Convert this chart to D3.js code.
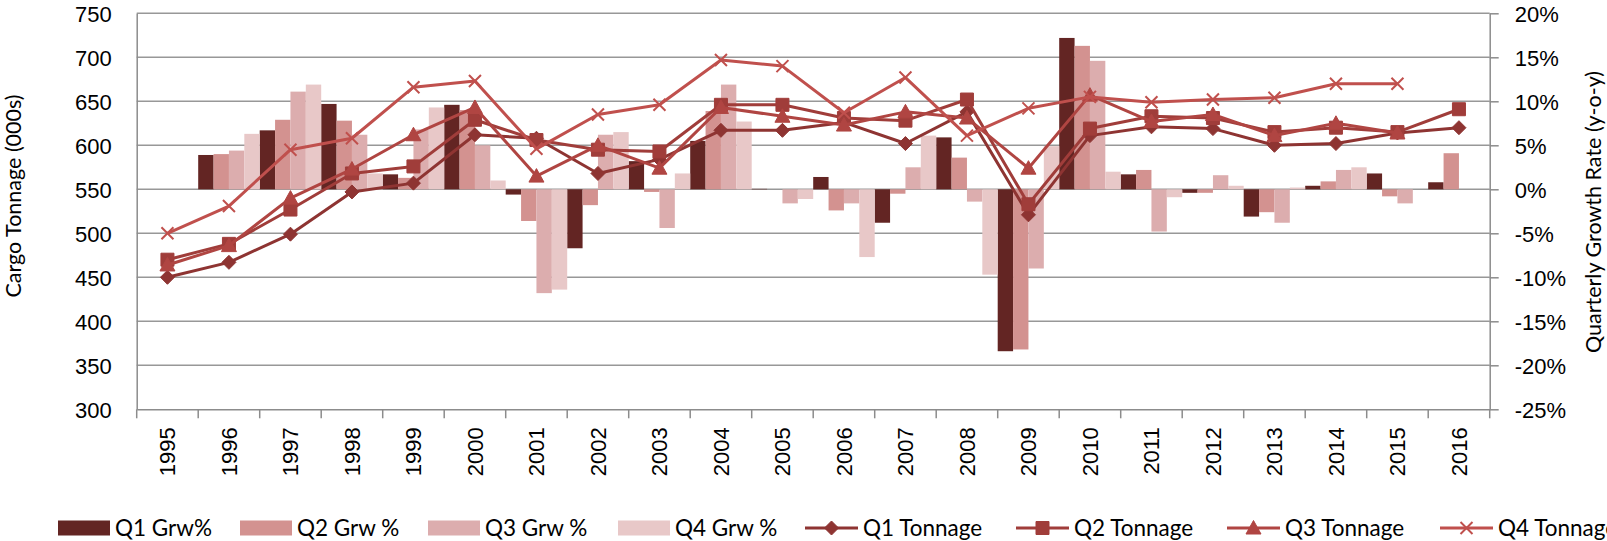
<!DOCTYPE html>
<html>
<head>
<meta charset="utf-8">
<script src="https://cdn.jsdelivr.net/npm/d3@7"></script>
<style>
  body { margin: 0; background: #fff; }
  svg { display: block; font-family: Lato, "Open Sans", sans-serif; }
  .axis text { font-size: 22px; fill: #000; }
  .axis path, .axis line { stroke: #8c8c8c; stroke-width: 1.5; }
</style>
</head>
<body>
<div id="chart"></div>
<script>
// tick labels / categories
var years = ["1995","1996","1997","1998","1999","2000","2001","2002","2003","2004","2005",
             "2006","2007","2008","2009","2010","2011","2012","2013","2014","2015","2016"];
var quarters = ["Q1","Q2","Q3","Q4"];

// year-on-year growth, % (right axis)
var q1Grw = [null, 3.9, 6.7, 9.7, 1.7, 9.6, -0.6, -6.7, 3.2, 5.5, 0.05, 1.4, -3.8, 5.9, -18.4, 17.2, 1.7, -0.4, -3.1, 0.4, 1.8, 0.8];
var q2Grw = [null, 4.0, 7.9, 7.8, 1.3, 9.0, -3.6, -1.8, -0.3, 8.9, 0.0, -2.4, -0.5, 3.6, -18.2, 16.3, 2.2, -0.4, -2.6, 0.9, -0.8, 4.1];
var q3Grw = [null, 4.4, 11.1, 6.2, 6.8, 5.0, -11.8, 6.2, -4.4, 11.9, -1.6, -1.6, 2.5, -1.4, -9.0, 14.6, -4.8, 1.6, -3.8, 2.2, -1.6, null];
var q4Grw = [null, 6.3, 11.9, 1.8, 9.3, 1.0, -11.4, 6.5, 1.8, 7.7, -1.1, -7.7, 6.1, -9.7, 4.9, 2.0, -0.9, 0.4, 0.2, 2.5, null, null];

// cargo tonnage, 000s (left axis)
var q1Ton = [450, 467, 499, 547, 557, 612, 608, 568, 584, 617, 617, 626, 602, 638, 521, 611, 621, 619, 600, 602, 614, 620];
var q2Ton = [470, 488, 527, 568, 576, 629, 606, 595, 593, 646, 646, 631, 628, 652, 533, 619, 633, 631, 615, 620, 615, 641];
var q3Ton = [464, 486, 540, 573, 612, 643, 565, 600, 574, 643, 633, 623, 638, 631, 574, 657, 627, 635, 611, 625, 614, null];
var q4Ton = [500, 531, 595, 608, 666, 673, 596, 635, 646, 697, 690, 637, 677, 611, 642, 655, 649, 652, 654, 670, 670, null];

var leftTicks = [300, 350, 400, 450, 500, 550, 600, 650, 700, 750];
var rightTicks = [-0.25, -0.20, -0.15, -0.10, -0.05, 0, 0.05, 0.10, 0.15, 0.20];

var W = 1607, H = 541;
var plot = { left: 136.7, right: 1489.7, top: 13.3, bottom: 409.3 };

var barColors = ["#632523", "#d39290", "#dcadae", "#e8c8c8"];
var lineColors = ["#8e3432", "#a03d3a", "#b04542", "#c0504d"];

// marker shapes (centred on 0,0)
var shapes = {
    diamond: "M0,-7L7,0L0,7L-7,0Z",
    square: "M-6.5,-6.5h13v13h-13Z",
    triangle: "M0,-7.5L7.5,6L-7.5,6Z",
    cross: "M-6,-6L6,6M-6,6L6,-6"
};

var barSeries = [
    { name: "Q1 Grw%", q: "Q1", values: q1Grw },
    { name: "Q2 Grw %", q: "Q2", values: q2Grw },
    { name: "Q3 Grw %", q: "Q3", values: q3Grw },
    { name: "Q4 Grw %", q: "Q4", values: q4Grw }
];
var lineSeries = [
    { name: "Q1 Tonnage", values: q1Ton, shape: "diamond" },
    { name: "Q2 Tonnage", values: q2Ton, shape: "square" },
    { name: "Q3 Tonnage", values: q3Ton, shape: "triangle" },
    { name: "Q4 Tonnage", values: q4Ton, shape: "cross" }
];

var svg = d3.select("#chart").append("svg")
    .attr("width", W)
    .attr("height", H);

var x = d3.scaleBand().domain(years).range([plot.left, plot.right]).padding(0);
var xq = d3.scaleBand().domain(quarters).range([0, x.bandwidth()]).padding(0);
var yL = d3.scaleLinear().domain([300, 750]).range([plot.bottom, plot.top]);
var yR = d3.scaleLinear().domain([-0.25, 0.20]).range([plot.bottom, plot.top]);

// gridlines
svg.append("g").attr("class", "grid")
    .selectAll("line")
    .data(leftTicks.slice(1))
    .enter().append("line")
    .attr("x1", plot.left).attr("x2", plot.right)
    .attr("y1", function(d){ return yL(d); })
    .attr("y2", function(d){ return yL(d); })
    .attr("stroke", "#989898")
    .attr("stroke-width", 1.5);

// growth bars
var barG = svg.append("g").attr("class", "bars");
barSeries.forEach(function(s, i){
    var pts = s.values.map(function(v, j){ return { year: years[j], v: v }; })
        .filter(function(d){ return d.v !== null; });
    barG.append("g")
        .selectAll("rect")
        .data(pts)
        .enter().append("rect")
        .attr("x", function(d){ return x(d.year) + xq(s.q); })
        .attr("width", xq.bandwidth())
        .attr("y", function(d){ return Math.min(yR(d.v / 100), yR(0)); })
        .attr("height", function(d){ return Math.abs(yR(d.v / 100) - yR(0)); })
        .attr("fill", barColors[i]);
});

// axes
var leftAxis = svg.append("g").attr("class", "axis")
    .attr("transform", "translate(" + plot.left + ",0)")
    .call(d3.axisLeft(yL).tickValues(leftTicks).tickSize(0).tickSizeOuter(0).tickPadding(25));
leftAxis.selectAll("text").attr("dy", "0.35em");

var rightAxis = svg.append("g").attr("class", "axis")
    .attr("transform", "translate(" + plot.right + ",0)")
    .call(d3.axisRight(yR).tickValues(rightTicks).tickSize(9).tickSizeOuter(0).tickPadding(16)
        .tickFormat(function(d){ return Math.round(d * 100) + "%"; }));
rightAxis.selectAll("text").attr("dy", "0.35em");

var bottomAxis = svg.append("g").attr("class", "axis")
    .attr("transform", "translate(0," + plot.bottom + ")")
    .call(d3.axisBottom(x).tickSize(0).tickSizeOuter(0));
bottomAxis.selectAll("text")
    .attr("transform", "rotate(-90)")
    .attr("x", -18)
    .attr("y", 0)
    .attr("dy", "0.35em")
    .style("text-anchor", "end");

// category tick marks sit on band edges
bottomAxis.append("g")
    .selectAll("line")
    .data(years.map(function(d){ return x(d); }).concat([x.range()[1]]))
    .enter().append("line")
    .attr("x1", function(d){ return d; })
    .attr("x2", function(d){ return d; })
    .attr("y1", 0).attr("y2", 9);

// tonnage lines
var lineG = svg.append("g").attr("class", "lines");
lineSeries.forEach(function(s, i){
    var pts = s.values.map(function(v, j){ return { year: years[j], v: v }; });
    var line = d3.line()
        .defined(function(d){ return d.v !== null; })
        .x(function(d){ return x(d.year) + x.bandwidth() / 2; })
        .y(function(d){ return yL(d.v); });
    var g = lineG.append("g");
    g.append("path")
        .datum(pts)
        .attr("d", line)
        .attr("fill", "none")
        .attr("stroke", lineColors[i])
        .attr("stroke-width", 3)
        .attr("stroke-linejoin", "round");
    g.selectAll("path.marker")
        .data(pts.filter(function(d){ return d.v !== null; }))
        .enter().append("path")
        .attr("class", "marker")
        .attr("transform", function(d){
            return "translate(" + (x(d.year) + x.bandwidth() / 2) + "," + yL(d.v) + ")";
        })
        .attr("d", shapes[s.shape])
        .attr("fill", s.shape == "cross" ? "none" : lineColors[i])
        .attr("stroke", lineColors[i])
        .attr("stroke-width", s.shape == "cross" ? 2 : 1);
});

// axis titles
svg.append("text")
    .attr("transform", "translate(20.7,196) rotate(-90)")
    .attr("text-anchor", "middle")
    .style("font-size", "21.5px")
    .text("Cargo Tonnage (000s)");
svg.append("text")
    .attr("transform", "translate(1601,212) rotate(-90)")
    .attr("text-anchor", "middle")
    .style("font-size", "21.5px")
    .text("Quarterly Growth Rate (y-o-y)");

// legend
var legendX = [58, 240, 428, 618, 805, 1016, 1227, 1440];
var legendY = 528;
var legend = svg.append("g").attr("class", "legend");
barSeries.forEach(function(s, i){
    var g = legend.append("g").attr("transform", "translate(" + legendX[i] + "," + legendY + ")");
    g.append("rect").attr("x", 0).attr("y", -7.5).attr("width", 52).attr("height", 15).attr("fill", barColors[i]);
    g.append("text").attr("x", 57).attr("y", 0).attr("dy", "0.35em")
        .style("font-size", "22.5px").text(s.name);
});
lineSeries.forEach(function(s, i){
    var g = legend.append("g").attr("transform", "translate(" + legendX[i + 4] + "," + legendY + ")");
    g.append("line").attr("x1", 0).attr("x2", 53).attr("y1", 0).attr("y2", 0)
        .attr("stroke", lineColors[i]).attr("stroke-width", 3);
    g.append("path").attr("transform", "translate(26.5,0)")
        .attr("d", shapes[s.shape])
        .attr("fill", s.shape == "cross" ? "none" : lineColors[i])
        .attr("stroke", lineColors[i])
        .attr("stroke-width", s.shape == "cross" ? 2 : 1);
    g.append("text").attr("x", 58).attr("y", 0).attr("dy", "0.35em")
        .style("font-size", "22.5px").text(s.name);
});
</script>
</body>
</html>
